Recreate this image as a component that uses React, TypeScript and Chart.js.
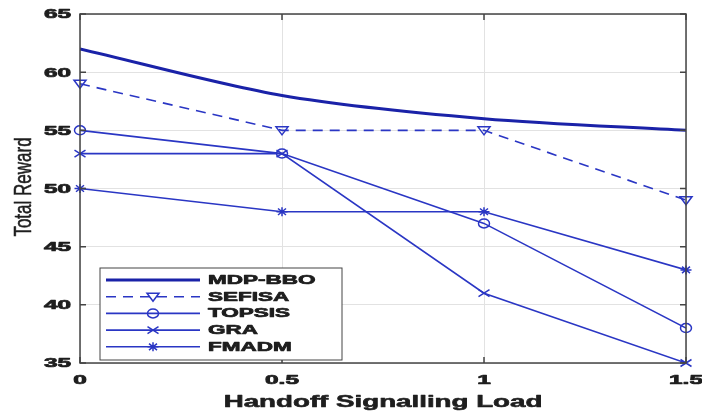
import React, { useEffect, useRef } from "react";
import { Chart, registerables } from "chart.js";

Chart.register(...registerables);

const xValues = [0, 0.5, 1, 1.5];
const seriesNames = ["MDP-BBO", "SEFISA", "TOPSIS", "GRA", "FMADM"];
const mdpBbo = [62, 58, 56, 55];
const sefisa = [59, 55, 55, 49];
const topsis = [55, 53, 47, 38];
const gra = [53, 53, 41, 35];
const fmadm = [50, 48, 48, 43];
const xTicks = [0, 0.5, 1, 1.5];
const yTicks = [35, 40, 45, 50, 55, 60, 65];
const xTitle = "Handoff Signalling Load";
const yTitle = "Total Reward";

const THIN = "#2a36c4";
const THICK = "#1a22a8";
const FONT = "'Liberation Sans', Arial, sans-serif";

type Style = { color: string; width: number; dash: number[]; marker: string };
const styles: Style[] = [
  { color: THICK, width: 3, dash: [], marker: "none" },
  { color: THIN, width: 1.6, dash: [10, 7], marker: "tri" },
  { color: THIN, width: 1.6, dash: [], marker: "circle" },
  { color: THIN, width: 1.6, dash: [], marker: "x" },
  { color: THIN, width: 1.6, dash: [], marker: "star" },
];

function drawMarker(ctx: CanvasRenderingContext2D, kind: string, x: number, y: number, color: string) {
  ctx.save();
  ctx.setLineDash([]);
  ctx.strokeStyle = color;
  ctx.lineWidth = 1.5;
  const r = 5;
  ctx.beginPath();
  if (kind === "tri") {
    ctx.moveTo(x - r * 1.2, y - r * 0.7);
    ctx.lineTo(x + r * 1.2, y - r * 0.7);
    ctx.lineTo(x, y + r * 0.9);
    ctx.closePath();
  } else if (kind === "circle") {
    ctx.ellipse(x, y, r * 1.1, r * 0.9, 0, 0, Math.PI * 2);
  } else if (kind === "x") {
    ctx.moveTo(x - r * 1.1, y - r * 0.7);
    ctx.lineTo(x + r * 1.1, y + r * 0.7);
    ctx.moveTo(x + r * 1.1, y - r * 0.7);
    ctx.lineTo(x - r * 1.1, y + r * 0.7);
  } else if (kind === "star") {
    ctx.moveTo(x - r * 1.1, y);
    ctx.lineTo(x + r * 1.1, y);
    ctx.moveTo(x, y - r * 0.9);
    ctx.lineTo(x, y + r * 0.9);
    ctx.moveTo(x - r * 0.8, y - r * 0.65);
    ctx.lineTo(x + r * 0.8, y + r * 0.65);
    ctx.moveTo(x + r * 0.8, y - r * 0.65);
    ctx.lineTo(x - r * 0.8, y + r * 0.65);
  }
  ctx.stroke();
  ctx.restore();
}

function stretchedText(
  ctx: CanvasRenderingContext2D,
  text: string,
  x: number,
  y: number,
  align: CanvasTextAlign,
  font: string,
  sx: number,
  rotate = false,
  heavy = 0
) {
  ctx.save();
  ctx.translate(x, y);
  if (rotate) ctx.rotate(-Math.PI / 2);
  if (rotate) ctx.scale(1, sx);
  else ctx.scale(sx, 1);
  ctx.font = font;
  ctx.textAlign = align;
  ctx.textBaseline = "middle";
  ctx.fillStyle = "#1e1e1e";
  ctx.fillText(text, 0, 0);
  if (heavy > 0) {
    ctx.strokeStyle = "#1e1e1e";
    ctx.lineWidth = heavy;
    ctx.lineJoin = "round";
    ctx.strokeText(text, 0, 0);
  }
  ctx.restore();
}

const framePlugin = {
  id: "frameAndLegend",
  afterDatasetsDraw(chart: any) {
    const ctx: CanvasRenderingContext2D = chart.ctx;
    const { left, right, top, bottom } = chart.chartArea;
    chart.data.datasets.forEach((ds: any, i: number) => {
      const meta = chart.getDatasetMeta(i);
      meta.data.forEach((pt: any) => {
        drawMarker(ctx, styles[i].marker, pt.x, pt.y, styles[i].color);
      });
    });
    ctx.save();
    ctx.strokeStyle = "#444";
    ctx.lineWidth = 1.5;
    ctx.setLineDash([]);
    ctx.strokeRect(left, top, right - left, bottom - top);
    const xs = chart.scales.x;
    const ys = chart.scales.y;
    ctx.beginPath();
    xTicks.forEach((v) => {
      const px = xs.getPixelForValue(v);
      ctx.moveTo(px, bottom);
      ctx.lineTo(px, bottom - 6);
      ctx.moveTo(px, top);
      ctx.lineTo(px, top + 6);
    });
    yTicks.forEach((v) => {
      const py = ys.getPixelForValue(v);
      ctx.moveTo(left, py);
      ctx.lineTo(left + 6, py);
      ctx.moveTo(right, py);
      ctx.lineTo(right - 6, py);
    });
    ctx.stroke();

    const tickFont = `bold 12.5px ${FONT}`;
    xTicks.forEach((v) => {
      stretchedText(ctx, String(v), xs.getPixelForValue(v), bottom + 18, "center", tickFont, 1.95, false, 0.7);
    });
    yTicks.forEach((v) => {
      stretchedText(ctx, String(v), left - 9, ys.getPixelForValue(v) + 1, "right", tickFont, 1.95, false, 0.7);
    });
    stretchedText(ctx, xTitle, (left + right) / 2, 402, "center", `bold 17px ${FONT}`, 1.63, false, 0.6);
    stretchedText(ctx, yTitle, 24, 187, "center", `17px ${FONT}`, 1.4, true, 0.4);

    const bx = 100, by = 268, bw = 242, bh = 92;
    ctx.fillStyle = "#fff";
    ctx.fillRect(bx, by, bw, bh);
    ctx.strokeStyle = "#444";
    ctx.lineWidth = 1;
    ctx.strokeRect(bx, by, bw, bh);
    seriesNames.forEach((name, i) => {
      const y = 280 + i * 16.7;
      const s = styles[i];
      ctx.save();
      ctx.strokeStyle = s.color;
      ctx.lineWidth = s.width;
      ctx.setLineDash(s.dash);
      ctx.beginPath();
      ctx.moveTo(106, y);
      ctx.lineTo(200, y);
      ctx.stroke();
      ctx.restore();
      drawMarker(ctx, s.marker, 153, y, s.color);
      stretchedText(ctx, name, 208, y + 0.5, "left", `bold 12.5px ${FONT}`, 1.8, false, 0.7);
    });
    ctx.restore();
  },
};

export default function App() {
  const ref = useRef<HTMLCanvasElement | null>(null);
  useEffect(() => {
    if (!ref.current) return;
    const allSeries = [mdpBbo, sefisa, topsis, gra, fmadm];
    const chart = new Chart(ref.current, {
      type: "line",
      data: {
        datasets: allSeries.map((vals, i) => ({
          label: seriesNames[i],
          data: xValues.map((x, j) => ({ x, y: vals[j] })),
          borderColor: styles[i].color,
          borderWidth: styles[i].width,
          borderDash: styles[i].dash,
          pointRadius: 0,
          tension: i === 0 ? 0.3 : 0,
          fill: false,
        })),
      },
      options: {
        animation: false,
        responsive: true,
        maintainAspectRatio: false,
        layout: { padding: { left: 0, right: 16, top: 14, bottom: 0 } },
        plugins: { legend: { display: false }, tooltip: { enabled: false } },
        scales: {
          x: {
            type: "linear",
            min: 0,
            max: 1.5,
            afterBuildTicks: (s: any) => {
              s.ticks = xTicks.map((v) => ({ value: v }));
            },
            afterFit: (s: any) => {
              s.height = 49;
            },
            grid: { color: "#e2e2e2", drawTicks: false, lineWidth: 1 },
            border: { display: false },
            ticks: { display: false },
            title: { display: false, text: xTitle },
          },
          y: {
            type: "linear",
            min: 35,
            max: 65,
            afterBuildTicks: (s: any) => {
              s.ticks = yTicks.map((v) => ({ value: v }));
            },
            afterFit: (s: any) => {
              s.width = 80;
            },
            grid: { color: "#e2e2e2", drawTicks: false, lineWidth: 1 },
            border: { display: false },
            ticks: { display: false },
            title: { display: false, text: yTitle },
          },
        },
      },
      plugins: [framePlugin],
    });
    return () => chart.destroy();
  }, []);
  return (
    <div style={{ position: "fixed", left: 0, top: 0, width: 702, height: 412, background: "#fff" }}>
      <canvas ref={ref} />
    </div>
  );
}
